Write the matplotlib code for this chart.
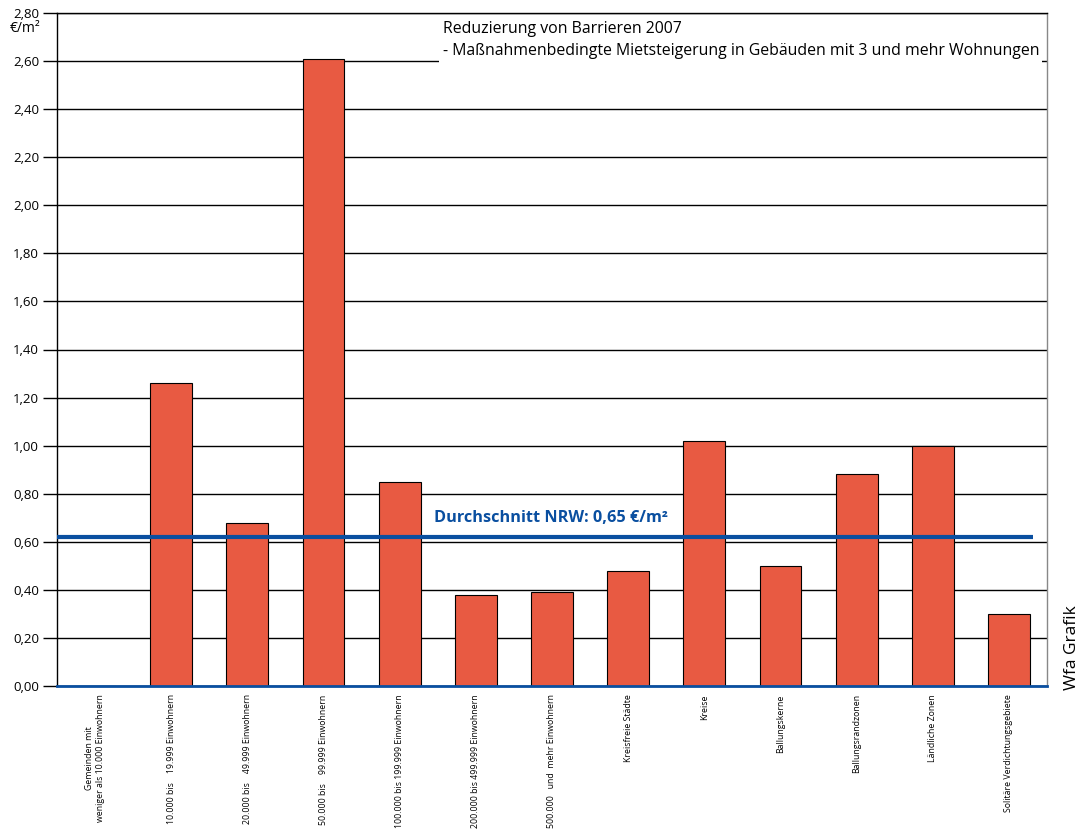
import matplotlib.pyplot as plt
from matplotlib.patches import Rectangle
from matplotlib.ticker import FuncFormatter

plt.rcParams['font.family'] = ['Open Sans', 'DejaVu Sans']

categories = [
    'Gemeinden mit\nweniger als 10.000 Einwohnern',
    '10.000 bis    19.999 Einwohnern',
    '20.000 bis    49.999 Einwohnern',
    '50.000 bis    99.999 Einwohnern',
    '100.000 bis 199.999 Einwohnern',
    '200.000 bis 499.999 Einwohnern',
    '500.000   und  mehr Einwohnern',
    'Kreisfreie Städte',
    'Kreise',
    'Ballungskerne',
    'Ballungsrandzonen',
    'Ländliche Zonen',
    'Solitäre Verdichtungsgebiete',
]
values = [0.0, 1.26, 0.68, 2.61, 0.85, 0.38, 0.39, 0.48, 1.02, 0.50, 0.88, 1.00, 0.30]
average_line = 0.62
average_label = 'Durchschnitt NRW: 0,65 €/m²'
y_ticks = [i * 0.2 for i in range(15)]

bar_color = '#e85a42'
blue = '#0a4fa0'

fig = plt.figure(figsize=(10.84, 8.32), dpi=100)
ax = fig.add_axes([57 / 1084, 1 - 686 / 832, 990 / 1084, 673 / 832])

x = list(range(len(categories)))
ax.bar(x, values, width=0.55, color=bar_color, edgecolor='black', linewidth=0.8, zorder=3)

ax.set_xlim(-0.5, len(categories) - 0.5)
ax.set_ylim(0, 2.8)
ax.set_yticks(y_ticks)
ax.yaxis.set_major_formatter(FuncFormatter(lambda v, p: f'{v:.2f}'.replace('.', ',')))
ax.grid(axis='y', color='black', linewidth=1.0, zorder=1)
ax.tick_params(axis='y', length=10, width=1.0, labelsize=9.5, pad=3)

ax.set_xticks(x)
ax.set_xticklabels(categories, rotation=90, fontsize=6.3, va='top', ha='center',
                   multialignment='center')
ax.tick_params(axis='x', length=0, pad=6)

for s in ['left', 'top']:
    ax.spines[s].set_color('black')
    ax.spines[s].set_linewidth(1.0)
ax.spines['right'].set_color('#888888')
ax.spines['right'].set_linewidth(1.0)
ax.spines['bottom'].set_color(blue)
ax.spines['bottom'].set_linewidth(2.0)
ax.spines['bottom'].set_zorder(5)

# average line
ax.plot([-0.5, 12.32], [average_line, average_line], color=blue, linewidth=3.0, zorder=4,
        solid_capstyle='butt')
ax.text(4.45, 0.70, average_label, color=blue, fontsize=11.7, fontweight='bold',
        ha='left', va='center', zorder=5)

# title box (white patch hides the gridlines behind it)
fig.patches.append(Rectangle((439 / 1084, 1 - 64 / 832), 603 / 1084, 48 / 832,
                             transform=fig.transFigure, facecolor='white',
                             edgecolor='none', zorder=5))
fig.text(443 / 1084, 1 - 40 / 832,
         'Reduzierung von Barrieren 2007\n- Maßnahmenbedingte Mietsteigerung in Gebäuden mit 3 und mehr Wohnungen',
         fontsize=11.4, ha='left', va='center', linespacing=1.45, zorder=6)

fig.text(10 / 1084, 1 - 28 / 832, '€/m²', fontsize=10, ha='left', va='center')
fig.text(1072 / 1084, 1 - 690 / 832, 'Wfa Grafik', fontsize=12.5, rotation=90,
         ha='center', va='bottom')

fig.savefig('out.png', dpi=100)
